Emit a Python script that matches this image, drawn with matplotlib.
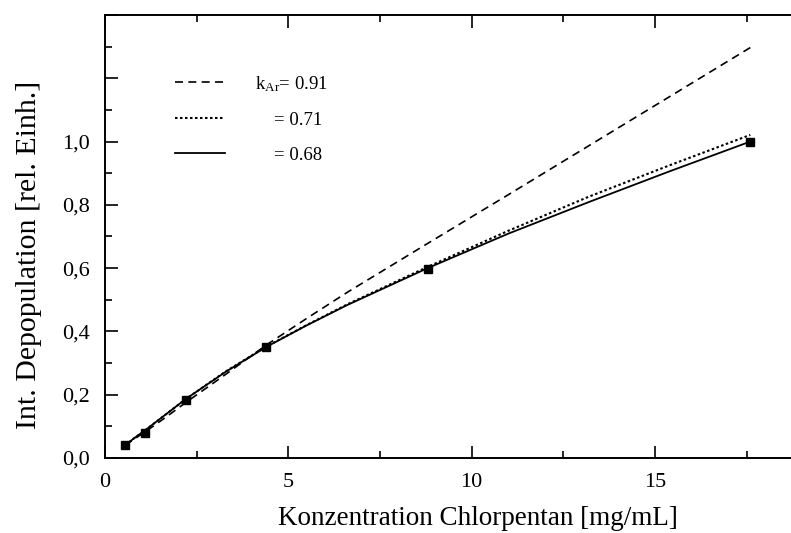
import matplotlib
matplotlib.use('Agg')
import matplotlib.pyplot as plt
from matplotlib.ticker import MultipleLocator, FuncFormatter

plt.rcParams['font.family'] = ['Liberation Serif', 'DejaVu Serif']
plt.rcParams['mathtext.fontset'] = 'custom'
plt.rcParams['mathtext.rm'] = 'Liberation Serif'
plt.rcParams['mathtext.it'] = 'Liberation Serif:italic'

# Messpunkte
conc = [0.55, 1.1, 2.2, 4.4, 8.8, 17.6]
depop = [0.040, 0.079, 0.183, 0.350, 0.596, 1.000]

# Kurven
curve_x = [0.55, 0.8, 1.1, 1.65, 2.2, 3.3, 4.4, 5.5, 6.6, 8.8, 11.0, 13.2, 15.4, 17.6]
curve_091 = [0.040, 0.060, 0.083, 0.128, 0.175, 0.265, 0.357, 0.441, 0.523, 0.678, 0.832, 0.987, 1.142, 1.297]
curve_071 = [0.040, 0.063, 0.088, 0.137, 0.186, 0.274, 0.352, 0.420, 0.485, 0.604, 0.718, 0.826, 0.925, 1.021]
curve_068 = [0.040, 0.063, 0.088, 0.137, 0.186, 0.273, 0.351, 0.419, 0.483, 0.600, 0.709, 0.809, 0.906, 1.000]

labels = [r'k$_{\mathrm{Ar}}$= 0.91', '    = 0.71', '    = 0.68']

fig = plt.figure(figsize=(7.91, 5.33), dpi=100)
ax = fig.add_axes([0.1327, 0.1407, 0.8673, 0.8312])

ax.plot(curve_x, curve_091, color='black', lw=1.2, linestyle=(0, (4.8, 3.2)), label=labels[0])
ax.plot(curve_x, curve_071, color='black', lw=1.5, linestyle=(0, (1.2, 1.2)), label=labels[1])
ax.plot(curve_x, curve_068, color='black', lw=1.3, linestyle='-', label=labels[2])
ax.plot(conc, depop, linestyle='none', marker='s', markersize=6, color='black')

ax.set_xlim(0, 18.71)
ax.set_ylim(0, 1.4)

ax.xaxis.set_major_locator(MultipleLocator(5))
ax.xaxis.set_minor_locator(MultipleLocator(2.5))
ax.yaxis.set_major_locator(MultipleLocator(0.2))
ax.yaxis.set_minor_locator(MultipleLocator(0.1))
ax.yaxis.set_major_formatter(FuncFormatter(
    lambda v, pos: f'{v:.1f}'.replace('.', ',') if v <= 1.0001 else ''))

ax.tick_params(which='both', direction='in', top=True, right=False,
               width=1.2, labelsize=16, pad=11)
ax.tick_params(which='major', length=9)
ax.tick_params(which='minor', length=5)

for side in ['left', 'bottom', 'top']:
    ax.spines[side].set_linewidth(1.4)
ax.spines['right'].set_visible(False)

ax.set_xlabel('Konzentration Chlorpentan [mg/mL]', fontsize=19.5)
ax.set_ylabel('Int. Depopulation [rel. Einh.]', fontsize=21.5)
ax.xaxis.set_label_coords(0.544, -0.109)
ax.yaxis.set_label_coords(-0.092, 0.458)

ax.legend(loc='upper left', bbox_to_anchor=(0.077, 0.905), frameon=False,
          fontsize=13.5, handlelength=2.67, handletextpad=1.6, labelspacing=0.95)

fig.savefig('out.png', dpi=100)
